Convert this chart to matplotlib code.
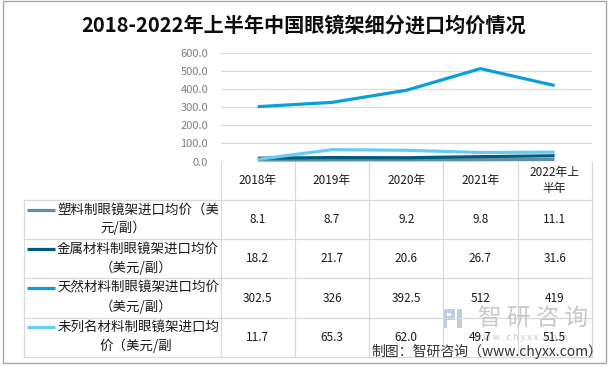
import matplotlib
matplotlib.use("Agg")
import matplotlib.pyplot as plt
from matplotlib.patches import Rectangle

plt.rcParams['font.family'] = ['Noto Sans CJK SC', 'DejaVu Sans']

years = ['2018年', '2019年', '2020年', '2021年', '2022年上\n半年']
series_names = [
    ('塑料制眼镜架进口均价（美', '元/副）'),
    ('金属材料制眼镜架进口均价', '（美元/副）'),
    ('天然材料制眼镜架进口均价', '（美元/副）'),
    ('未列名材料制眼镜架进口均', '价（美元/副'),
]
plastic = [8.1, 8.7, 9.2, 9.8, 11.1]
metal = [18.2, 21.7, 20.6, 26.7, 31.6]
natural = [302.5, 326, 392.5, 512, 419]
other = [11.7, 65.3, 62.0, 49.7, 51.5]
cell_text = [
    ['8.1', '8.7', '9.2', '9.8', '11.1'],
    ['18.2', '21.7', '20.6', '26.7', '31.6'],
    ['302.5', '326', '392.5', '512', '419'],
    ['11.7', '65.3', '62.0', '49.7', '51.5'],
]
colors = ['#5e8fa8', '#005b7f', '#0a9fda', '#66ccf2']

W, H = 610, 367
fig = plt.figure(figsize=(W / 100, H / 100), dpi=100)

# overlay in pixel coords for border, table and notes
ov = fig.add_axes([0, 0, 1, 1])
ov.set_xlim(0, W)
ov.set_ylim(H, 0)
ov.axis('off')

# plot area (pixels)
px0, px1 = 220.7, 591.7
py_top, py0 = 52.7, 161.5

ax = fig.add_axes([px0 / W, (H - py0) / H, (px1 - px0) / W, (py0 - py_top) / H])
for vals, c in zip([plastic, metal, natural, other], colors):
    ax.plot(range(len(vals)), vals, color=c, lw=2.3, solid_capstyle='butt', zorder=3)
ax.set_xlim(-0.5, len(years) - 0.5)
ax.set_ylim(0, 600)
ax.set_yticks(range(0, 601, 100))
ax.set_yticklabels([f'{v:.1f}' for v in range(0, 601, 100)])
ax.tick_params(axis='y', length=0, pad=9, labelsize=8, labelcolor='#7f7f7f')
ax.set_xticks([])
ax.grid(axis='y', color='#d9d9d9', lw=0.8)
for s in ax.spines.values():
    s.set_visible(False)
ax.patch.set_alpha(0)

# outer border
ov.add_patch(Rectangle((2.5, 1), 603, 362, fill=False, ec='#a6a6a6', lw=1))

ov.text(304, 25, '2018-2022年上半年中国眼镜架细分进口均价情况', ha='center', va='center',
        fontsize=14.5, fontweight='bold', color='#0d0d0d')

# watermark (drawn under the table text)
ov.add_patch(Rectangle((443, 309), 11, 4, color='#bccde6', lw=0))
ov.add_patch(Rectangle((443, 316), 11, 4, color='#bccde6', lw=0))
ov.add_patch(Rectangle((443, 309), 4, 19, color='#bccde6', lw=0))
ov.add_patch(Rectangle((451, 309), 4, 11, color='#bccde6', lw=0))
ov.add_patch(Rectangle((457, 309), 5, 19, color='#c8cbce', lw=0))
ov.text(533, 319, '智 研 咨 询', ha='center', va='center', fontsize=17,
        color='#c6c9cc')
ov.text(521, 338, 'w w w . c h y x x . c o m', ha='center', va='center',
        fontsize=6.5, color='#c6c9cc')

# table grid
gc = '#d9d9d9'
tx0 = 24
col_w = (px1 - px0) / len(years)
col_edges = [px0 + i * col_w for i in range(len(years) + 1)]
row_edges = [200, 239.3, 278.3, 317.7, 356.7]
for y in row_edges:
    ov.plot([tx0, px1], [y, y], color=gc, lw=0.9)
ov.plot([tx0, tx0], [row_edges[0], row_edges[-1]], color=gc, lw=0.9)
for x in col_edges:
    ov.plot([x, x], [py0, row_edges[-1]], color=gc, lw=0.9)

# header
for i, yr in enumerate(years):
    ov.text(px0 + (i + 0.5) * col_w, 180.5, yr, ha='center', va='center',
            fontsize=8.5, color='#1a1a1a', linespacing=1.25)

# rows
for r, ((l1, l2), c) in enumerate(zip(series_names, colors)):
    top = row_edges[r]
    ov.plot([26.7, 55], [top + 9.5, top + 9.5], color=c, lw=2.3, solid_capstyle='butt')
    ov.text(57, top + 9.5, l1, ha='left', va='center', fontsize=9.7, color='#1a1a1a')
    ov.text(100, top + 28, l2, ha='left', va='center', fontsize=9.7, color='#1a1a1a')
    ymid = (row_edges[r] + row_edges[r + 1]) / 2
    for i, t in enumerate(cell_text[r]):
        ov.text(px0 + (i + 0.5) * col_w, ymid, t, ha='center', va='center',
                fontsize=8.5, color='#1a1a1a')

ov.text(602, 351, '制图：智研咨询（www.chyxx.com）', ha='right', va='center',
        fontsize=10, color='#333333')

fig.savefig('out.png', dpi=100)
